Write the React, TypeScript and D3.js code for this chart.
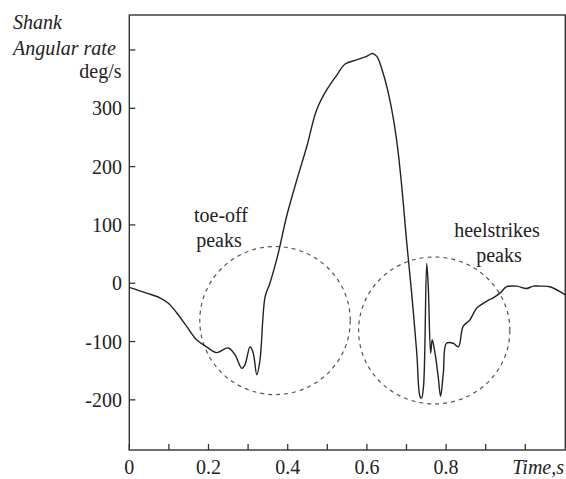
import React from "react";
import * as d3 from "d3";

const timeS = [0, 0.044, 0.077, 0.098, 0.12, 0.145, 0.17, 0.195, 0.22, 0.25, 0.267, 0.284, 0.292, 0.305, 0.313, 0.322, 0.33, 0.343, 0.355, 0.376, 0.397, 0.423, 0.448, 0.473, 0.498, 0.524, 0.545, 0.574, 0.599, 0.614, 0.625, 0.641, 0.658, 0.675, 0.688, 0.7, 0.713, 0.726, 0.734, 0.738, 0.743, 0.751, 0.755, 0.761, 0.765, 0.772, 0.78, 0.786, 0.793, 0.801, 0.818, 0.831, 0.843, 0.86, 0.877, 0.902, 0.919, 0.936, 0.953, 0.978, 1.003, 1.02, 1.037, 1.062, 1.101];
const rate = [-7, -17, -25, -34, -51, -74, -97, -109, -119, -111, -123, -146, -140, -109, -120, -157, -132, -23, 0, 51, 114, 177, 234, 297, 331, 357, 376, 383, 389, 394, 389, 360, 314, 246, 166, 74, -17, -120, -194, -197, -177, 34, -6, -120, -97, -120, -160, -194, -154, -103, -103, -109, -74, -63, -43, -31, -25, -17, -6, -5, -9, -5, -5, -6, -20];

const yTicks = [400, 300, 200, 100, 0, -100, -200];
const yLabels = ["", "300", "200", "100", "0", "-100", "-200"];
const xTicks = [0, 0.1, 0.2, 0.3, 0.4, 0.5, 0.6, 0.7, 0.8, 0.9, 1.0];
const xLabels = ["0", "0.2", "0.4", "0.6", "0.8"];

const circles = [
  { t: 0.368, v: -64, rt: 0.19, rv: 127 },
  { t: 0.77, v: -81, rt: 0.191, rv: 126 },
];

export default function App() {
  const W = 566, H = 479;
  const L = 129.3, R = 565.3, T = 15, B = 450;
  const x = d3.scaleLinear().domain([0, 1.101]).range([L, R]);
  const y = d3.scaleLinear().domain([-286, 460]).range([B, T]);
  const data = timeS.map((t, i) => [t, rate[i]] as [number, number]);
  const line = d3
    .line<[number, number]>()
    .x((d) => x(d[0]))
    .y((d) => y(d[1]))
    .curve(d3.curveCatmullRom.alpha(0.5));
  const ts: React.CSSProperties = { fontFamily: "'Liberation Serif'", fontSize: 20 };
  const its: React.CSSProperties = { fontFamily: "'Liberation Serif'", fontSize: 20, fontStyle: "italic" };
  const col = "#222";
  return (
    <svg width={W} height={H} style={{ position: "absolute", left: 0, top: 0, background: "#fff" }}>
      <style>{`svg text { font-family: 'Liberation Serif' !important; }`}</style>
      <rect x={L} y={T} width={R - L} height={B - T} fill="none" stroke="#333" strokeWidth={1.4} />
      {yTicks.map((v, i) => (
        <g key={"y" + v}>
          <line x1={L} x2={L + 6} y1={y(v)} y2={y(v)} stroke="#333" strokeWidth={1.3} />
          {yLabels[i] && (
            <text x={122} y={y(v) + 7} textAnchor="end" style={ts} fill={col}>
              {yLabels[i]}
            </text>
          )}
        </g>
      ))}
      {xTicks.map((t) => (
        <line key={"x" + t} x1={x(t)} x2={x(t)} y1={B} y2={B - 6} stroke="#333" strokeWidth={1.3} />
      ))}
      {xLabels.map((s, i) => (
        <text key={s} x={x(i * 0.2)} y={473.5} textAnchor="middle" style={ts} fill={col}>
          {s}
        </text>
      ))}
      <text x={564} y={473.5} textAnchor="end" style={its} fill={col}>
        Time,s
      </text>
      <text x={13} y={29} style={its} fill={col}>Shank</text>
      <text x={13} y={55} style={its} fill={col}>Angular rate</text>
      <text x={121.5} y={78} textAnchor="end" style={ts} fill={col}>deg/s</text>
      {circles.map((c, i) => (
        <ellipse
          key={i}
          cx={x(c.t)}
          cy={y(c.v)}
          rx={x(c.rt) - x(0)}
          ry={y(0) - y(c.rv)}
          fill="none"
          stroke="#555"
          strokeWidth={1.2}
          strokeDasharray="4,4"
        />
      ))}
      <path d={line(data) || ""} fill="none" stroke={col} strokeWidth={1.4} />
      <text x={221} y={222} textAnchor="middle" style={ts} fill={col}>toe-off</text>
      <text x={219} y={247} textAnchor="middle" style={ts} fill={col}>peaks</text>
      <text x={497} y={237} textAnchor="middle" style={ts} fill={col}>heelstrikes</text>
      <text x={499} y={262} textAnchor="middle" style={ts} fill={col}>peaks</text>
    </svg>
  );
}
